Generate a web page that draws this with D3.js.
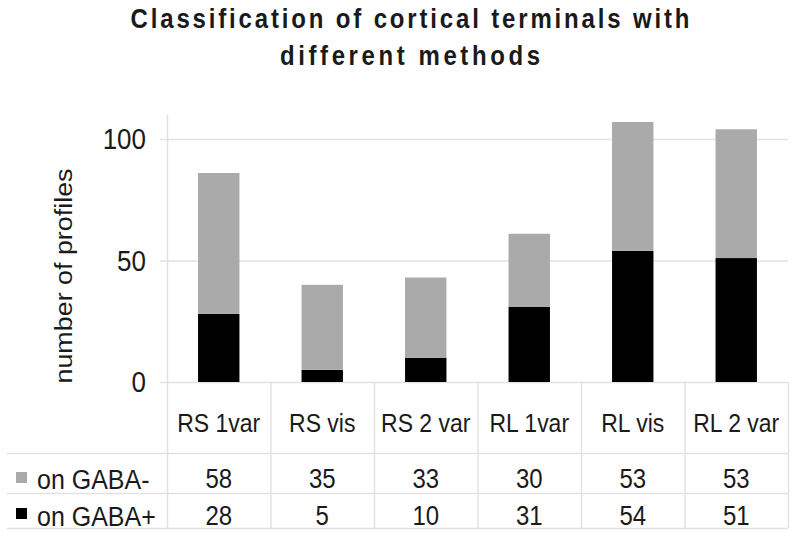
<!DOCTYPE html>
<html>
<head>
<meta charset="utf-8">
<script src="https://cdn.jsdelivr.net/npm/d3@7"></script>
<style>
  body { margin: 0; background: #fff; }
  text { font-family: "Liberation Sans", Arial, sans-serif; fill: #1a1a1a; }
</style>
</head>
<body>
<div id="chart"></div>
<script>
// Data
const categories = ["RS 1var", "RS vis", "RS 2 var", "RL 1var", "RL vis", "RL 2 var"];
const gabaMinus = [58, 35, 33, 30, 53, 53];
const gabaPlus = [28, 5, 10, 31, 54, 51];
const seriesNames = ["on GABA-", "on GABA+"];
const yTicks = [0, 50, 100];
const titleLines = ["Classification of cortical terminals with", "different methods"];

const W = 800, H = 538;
const plot = {left: 167, right: 788, top: 115, zero: 382};
const rowLines = [453, 493, 528];
const gridColor = "#e2e2e2";
const stretch = 1.12;   // source text is a bit taller than wide

const svg = d3.select("#chart")
    .append("svg")
    .attr("width", W)
    .attr("height", H);

// helper for the slightly stretched text
function label(x, y, s, size, anchor, weight) {
    return svg.append("text")
        .attr("transform", `translate(${x},${y}) scale(1,${stretch})`)
        .attr("text-anchor", anchor || "middle")
        .style("font-size", size + "px")
        .style("font-weight", weight || "normal")
        .text(s);
}

// Scales
const x = d3.scaleBand()
    .domain(categories)
    .range([plot.left, plot.right])
    .paddingInner(0.6)
    .paddingOuter(0.3);

const cols = d3.scaleBand()
    .domain(categories)
    .range([plot.left, plot.right])
    .padding(0);

const y = d3.scaleLinear()
    .domain([0, 100])
    .range([plot.zero, 139]);

// Gridlines
svg.append("g")
    .selectAll("line")
    .data(yTicks)
    .enter()
    .append("line")
    .attr("x1", plot.left - 7)
    .attr("x2", plot.right)
    .attr("y1", d => y(d) + 0.5)
    .attr("y2", d => y(d) + 0.5)
    .attr("stroke", gridColor)
    .attr("stroke-width", 1.5);

// Y axis labels
yTicks.forEach(t => {
    label(146, y(t) + 10, t, 26, "end");
});

// y axis line
svg.append("line")
    .attr("x1", plot.left + 0.5).attr("x2", plot.left + 0.5)
    .attr("y1", plot.top).attr("y2", rowLines[2])
    .attr("stroke", gridColor).attr("stroke-width", 1.5);

// Column dividers running down through the table
svg.append("g")
    .selectAll("line")
    .data(categories)
    .enter()
    .append("line")
    .attr("x1", d => cols(d) + cols.bandwidth() + 0.5)
    .attr("x2", d => cols(d) + cols.bandwidth() + 0.5)
    .attr("y1", plot.zero)
    .attr("y2", rowLines[2])
    .attr("stroke", gridColor)
    .attr("stroke-width", 1.5);

// Table row lines
svg.append("g")
    .selectAll("line")
    .data(rowLines)
    .enter()
    .append("line")
    .attr("x1", 7)
    .attr("x2", plot.right)
    .attr("y1", d => d + 0.5)
    .attr("y2", d => d + 0.5)
    .attr("stroke", gridColor)
    .attr("stroke-width", 1.5);

// Stacked bars
const rows = categories.map((c, i) => ({cat: c, plus: gabaPlus[i], minus: gabaMinus[i]}));
const stacked = d3.stack().keys(["plus", "minus"])(rows);
const color = d3.scaleOrdinal().domain(["plus", "minus"]).range(["#000000", "#aaaaaa"]);

svg.append("g")
    .selectAll("g")
    .data(stacked)
    .enter()
    .append("g")
    .attr("fill", d => color(d.key))
    .selectAll("rect")
    .data(d => d)
    .enter()
    .append("rect")
    .attr("x", d => x(d.data.cat))
    .attr("y", d => y(d[1]))
    .attr("width", x.bandwidth())
    .attr("height", d => y(d[0]) - y(d[1]));

// Table text
categories.forEach((c, i) => {
    const cx = cols(c) + cols.bandwidth() / 2;
    label(cx, 432, c, 23);
    label(cx, 488, gabaMinus[i], 24);
    label(cx, 525, gabaPlus[i], 24);
});

// Legend keys in the table
[["#aaaaaa", 472, 489], ["#000000", 508, 526]].forEach((k, i) => {
    svg.append("rect")
        .attr("x", 16).attr("y", k[1])
        .attr("width", 11).attr("height", 11)
        .attr("fill", k[0]);
    label(37, k[2], seriesNames[i], 25, "start");
});

// Y axis title
svg.append("text")
    .attr("transform", `translate(72,276) rotate(-90) scale(${stretch},1)`)
    .attr("text-anchor", "middle")
    .style("font-size", "24px")
    .text("number of profiles");

// Title
label(410, 28, titleLines[0], 24, "middle", "bold")
    .attr("textLength", 559 / 1)
    .attr("lengthAdjust", "spacing");
label(410, 65, titleLines[1], 24, "middle", "bold")
    .attr("textLength", 260)
    .attr("lengthAdjust", "spacing");
</script>
</body>
</html>
